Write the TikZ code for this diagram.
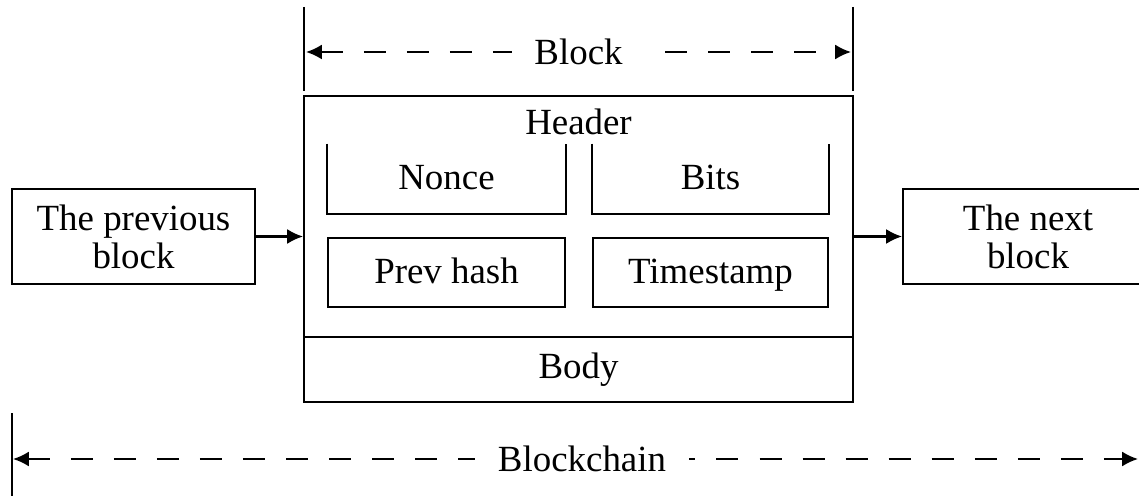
\documentclass[tikz,border=0pt]{standalone}
\usepackage{fontspec}
\setmainfont{Liberation Serif}
\usetikzlibrary{arrows.meta}
\begin{document}
\begin{tikzpicture}[x=0.02cm,y=-0.02cm,line width=1.2pt,font=\fontsize{21}{21.6}\selectfont]
\tikzstyle{recti}=[rectangle,draw,inner sep=0pt,align=center]
\tikzstyle{field}=[rectangle,inner sep=0pt,minimum height=1.37cm,text height=15pt,text depth=3pt]
\tikzstyle{cut}=[rectangle,fill=white,inner ysep=2pt,inner xsep=0.45cm]
\tikzstyle{link}=[-{Latex[length=9pt,width=8.5pt]}]
\tikzstyle{span}=[{Latex[length=9pt,width=8.5pt]}-{Latex[length=9pt,width=8.5pt]},dash pattern=on 12.5pt off 12pt]
\clip (0,0) rectangle (1139,496);
% outer blocks
\node [recti,minimum width=4.86cm,minimum height=1.9cm] (prev) at (133.5,236.5) {The previous\\block};
\node [recti,minimum width=5cm,minimum height=1.9cm] (next) at (1028,236.5) {The next\\block};
\node [recti,minimum width=10.98cm,minimum height=6.12cm] (blk) at (578.5,249) {};
\draw [link] (prev.east) -- (prev.east -| blk.west);
\draw [link] (blk.east |- next.west) -- (next.west);
% header and body
\node (header) at (578.5,122) {Header};
\coordinate (split) at (578.5,337);
\draw (blk.west |- split) -- (blk.east |- split);
\node (body) at (578.5,369.5) {Body};
\node [field,minimum width=4.74cm] (nonce) at (446.5,179) {Nonce};
\node [field,minimum width=4.7cm] (bits) at (710.5,179) {Bits};
\node [field,draw,minimum width=4.74cm] (prevhash) at (446.5,272.5) {Prev hash};
\node [field,draw,minimum width=4.7cm] (stamp) at (710.5,272.5) {Timestamp};
\draw (nonce.north west) |- (nonce.south east) -- (nonce.north east);
\draw (bits.north west) |- (bits.south east) -- (bits.north east);
% block span
\coordinate (bl) at (304,7);
\coordinate (br) at (853,7);
\draw (bl) -- ++(0,84);
\draw (br) -- ++(0,84);
\coordinate (bla) at (306,52);
\coordinate (bra) at (851,52);
\draw [span] (bla) -- (bra);
\node [cut] (blocklbl) at (578.5,52) {Block};
% blockchain span
\coordinate (cl) at (12,413);
\draw (cl) -- ++(0,90);
\coordinate (cla) at (13,459);
\coordinate (cra) at (1138,459);
\draw [span] (cla) -- (cra);
\node [cut] (chainlbl) at (582,459) {Blockchain};
\end{tikzpicture}
\end{document}
